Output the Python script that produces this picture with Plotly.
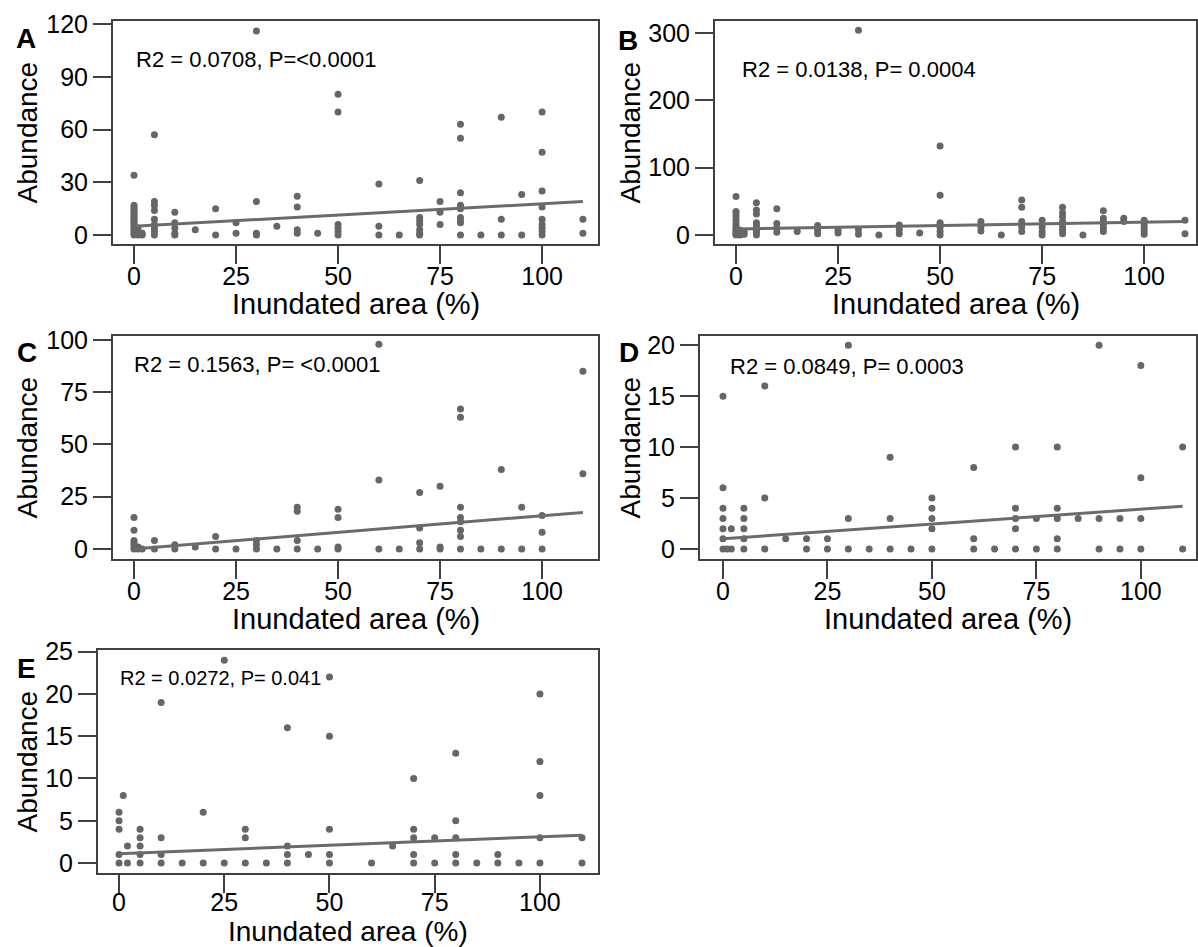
import plotly.graph_objects as go

W, H = 1198, 947
FONT = "Arial, 'Liberation Sans', sans-serif"

# ---------------- data (x = inundated area %, y = abundance values at that x) ----------------
A_x = [0, 1, 2, 5, 10, 15, 20, 25, 30, 35, 40, 45, 50, 60, 65, 70, 75, 80, 85, 90, 95, 100, 110]
A_y = [[34, 17, 16, 15, 14, 13, 12, 11, 10, 9, 8, 7, 6, 5, 4, 3, 2, 1, 0],
       [4, 2, 0], [1, 0], [57, 19, 17, 14, 9, 6, 4, 2, 0], [13, 7, 4, 1, 0], [3], [15, 0], [7, 1],
       [116, 19, 1, 0], [5], [22, 16, 3, 1], [1], [80, 70, 6, 4, 2, 0], [29, 5, 0], [0],
       [31, 10, 8, 6, 3, 1, 0], [19, 13, 6], [63, 55, 24, 17, 15, 10, 8, 7, 0], [0], [67, 9, 0],
       [23, 0], [70, 47, 25, 16, 9, 6, 4, 2, 0], [9, 1]]
A_fit = [5.0, 19.0]

B_x = [0, 1, 2, 5, 10, 15, 20, 25, 30, 35, 40, 45, 50, 60, 65, 70, 75, 80, 85, 90, 95, 100, 110]
B_y = [[57, 35, 31, 27, 22, 17, 13, 10, 7, 5, 3, 1, 0], [7, 4, 2, 0], [5, 1],
       [48, 37, 31, 18, 14, 10, 7, 4, 0], [39, 17, 10, 4], [5], [14, 10, 6, 2], [7, 3],
       [304, 8, 1], [0], [15, 8, 2], [3], [132, 59, 18, 15, 11, 5, 0], [20, 12, 6], [0],
       [52, 41, 20, 12, 5], [22, 12, 5, 0], [41, 33, 27, 20, 12, 7, 2], [0],
       [36, 25, 20, 15, 10, 5], [25, 20], [22, 16, 11, 6, 1], [22, 2]]
B_fit = [9.0, 20.0]

C_x = [0, 1, 2, 5, 10, 15, 20, 25, 30, 35, 40, 45, 50, 60, 65, 70, 75, 80, 85, 90, 95, 100, 110]
C_y = [[15, 9, 4, 3, 2, 1, 0], [1, 0], [0], [4, 0], [2, 0], [1], [6, 0], [0], [4, 2, 0], [0],
       [20, 18, 4, 0], [0], [19, 15, 1, 0], [98, 33, 0], [0], [27, 10, 3, 0], [30, 1, 0],
       [67, 63, 20, 15, 13, 9, 6, 0], [0], [38, 0], [20, 0], [16, 8, 0], [85, 36]]
C_fit = [0.0, 17.5]

D_x = [0, 1, 2, 5, 10, 15, 20, 25, 30, 35, 40, 45, 50, 60, 65, 70, 75, 80, 85, 90, 95, 100, 110]
D_y = [[15, 6, 4, 3, 2, 1, 0], [0], [2, 0], [4, 3, 2, 1, 0], [16, 5, 0], [1], [1, 0], [1, 0],
       [20, 3, 0], [0], [9, 3, 0], [0], [5, 4, 3, 2, 0], [8, 1, 0], [0], [10, 4, 3, 2, 0],
       [3, 0], [10, 4, 3, 1, 0], [3], [20, 3, 0], [3, 0], [18, 7, 3, 0], [10, 0]]
D_fit = [1.0, 4.2]

E_x = [0, 1, 2, 5, 10, 15, 20, 25, 30, 35, 40, 45, 50, 60, 65, 70, 75, 80, 85, 90, 95, 100, 110]
E_y = [[6, 5, 4, 1, 0], [8], [2, 0], [4, 3, 2, 1, 0], [19, 3, 1, 0], [0], [6, 0], [24, 0],
       [4, 3, 0], [0], [16, 2, 1, 0], [1], [22, 15, 4, 1, 0], [0], [2], [10, 4, 3, 1, 0],
       [3, 0], [13, 5, 3, 1, 0], [0], [1, 0], [0], [20, 12, 8, 3, 0], [3, 0]]
E_fit = [1.1, 3.3]

fit_x = [0, 110]
labels = ["A", "B", "C", "D", "E"]
stats = ["R2 = 0.0708, P=<0.0001", "R2 = 0.0138, P= 0.0004", "R2 = 0.1563, P= <0.0001",
         "R2 = 0.0849, P= 0.0003", "R2 = 0.0272, P= 0.041"]
x_ticks = [0, 25, 50, 75, 100]
y_ticks = [[0, 30, 60, 90, 120], [0, 100, 200, 300], [0, 25, 50, 75, 100],
           [0, 5, 10, 15, 20], [0, 5, 10, 15, 20, 25]]

# ---------------- layout geometry (pixels) ----------------
panels = [
    dict(xs=A_x, ys=A_y, fit=A_fit, box=(113, 598, 21, 244), xr=(-5.15, 113.7), yr=(-5.1, 121.7),
         ytitle_x=27, letter=(26, 38), stat=(134, 60, 22), xtitle_dy=60, xtitle_fs=29, xstand=-9),
    dict(xs=B_x, ys=B_y, fit=B_fit, box=(715, 1196, 21, 244), xr=(-5.15, 112.7), yr=(-13.4, 317.8),
         ytitle_x=630, letter=(628, 40), stat=(740, 69, 22), xtitle_dy=60, xtitle_fs=29, xstand=-9),
    dict(xs=C_x, ys=C_y, fit=C_fit, box=(113, 598, 336, 559), xr=(-5.15, 113.7), yr=(-4.8, 101.9),
         ytitle_x=27, letter=(27, 352), stat=(132, 364, 22), xtitle_dy=60, xtitle_fs=29, xstand=-9),
    dict(xs=D_x, ys=D_y, fit=D_fit, box=(700, 1196, 336, 559), xr=(-5.5, 113.2), yr=(-0.98, 20.9),
         ytitle_x=630, letter=(629, 353), stat=(728, 366, 22), xtitle_dy=60, xtitle_fs=29, xstand=-9),
    dict(xs=E_x, ys=E_y, fit=E_fit, box=(98, 598, 650, 873), xr=(-5.0, 113.8), yr=(-1.18, 25.2),
         ytitle_x=27, letter=(26, 668), stat=(118, 678, 20), xtitle_dy=58, xtitle_fs=28, xstand=-12),
]

def px(x):
    return x / W

def py(y):
    return 1 - y / H

fig = go.Figure()
annotations = []
AXCOL = "#404040"
PTCOL = "#666666"

for i, p in enumerate(panels):
    n = "" if i == 0 else str(i + 1)
    xs, ys = [], []
    for xv, vals in zip(p["xs"], p["ys"]):
        for v in vals:
            xs.append(xv)
            ys.append(v)
    fig.add_trace(go.Scatter(x=xs, y=ys, mode="markers", xaxis="x" + n, yaxis="y" + n,
                             marker=dict(size=7, color=PTCOL), showlegend=False, hoverinfo="x+y"))
    fig.add_trace(go.Scatter(x=fit_x, y=p["fit"], mode="lines", xaxis="x" + n, yaxis="y" + n,
                             line=dict(color="#6b6b6b", width=3), showlegend=False))
    x0, x1, y0, y1 = p["box"]
    common = dict(showline=True, mirror=True, linecolor=AXCOL, linewidth=2, ticks="outside",
                  ticklen=18, tickwidth=2, tickcolor=AXCOL, showgrid=False, zeroline=False,
                  automargin=False,
                  tickfont=dict(size=25, color="black", family=FONT), fixedrange=True)
    fig.update_layout(**{
        "xaxis" + n: dict(domain=[px(x0), px(x1)], range=list(p["xr"]), tickvals=x_ticks,
                          anchor="y" + n, ticklabelstandoff=p["xstand"], **common),
        "yaxis" + n: dict(domain=[py(y1), py(y0)], range=list(p["yr"]), tickvals=y_ticks[i],
                          anchor="x" + n, **common),
    })
    # x axis title
    annotations.append(dict(text="Inundated area (%)", x=px((x0 + x1) / 2),
                            y=py(y1 + p["xtitle_dy"]),
                            xref="paper", yref="paper", showarrow=False, xanchor="center",
                            yanchor="middle",
                            font=dict(size=p["xtitle_fs"], color="black", family=FONT)))
    # y axis title
    annotations.append(dict(text="Abundance", x=px(p["ytitle_x"]), y=py((y0 + y1) / 2),
                            xref="paper", yref="paper", showarrow=False, textangle=-90,
                            xanchor="center", yanchor="middle",
                            font=dict(size=28, color="black", family=FONT)))
    # panel letter
    lx, ly = p["letter"]
    annotations.append(dict(text="<b>" + labels[i] + "</b>", x=px(lx), y=py(ly), xref="paper",
                            yref="paper", showarrow=False, xanchor="center", yanchor="middle",
                            font=dict(size=28, color="black", family=FONT)))
    # statistics text
    sx, sy, ss = p["stat"]
    annotations.append(dict(text=stats[i], x=px(sx), y=py(sy), xref="paper", yref="paper",
                            showarrow=False, xanchor="left", yanchor="middle",
                            font=dict(size=ss, color="black", family=FONT)))

fig.update_layout(width=W, height=H, margin=dict(l=0, r=0, t=0, b=0), autosize=False,
                  paper_bgcolor="white", plot_bgcolor="white", annotations=annotations,
                  font=dict(family=FONT))

fig.write_html("out.html", config={"displayModeBar": False},
               post_script="document.body.style.margin='0';document.body.style.overflow='hidden';")
